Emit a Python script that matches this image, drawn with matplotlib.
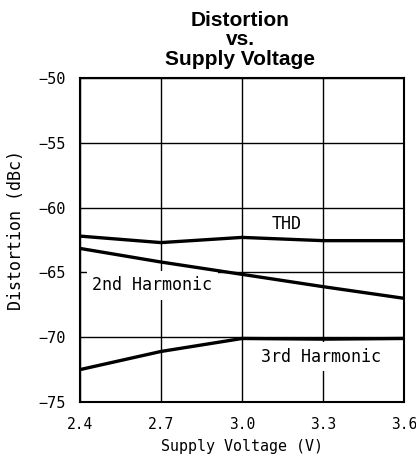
import matplotlib
matplotlib.use("Agg")
import matplotlib.pyplot as plt

voltage = [2.4, 2.7, 3.0, 3.3, 3.6]
thd = [-62.2, -62.7, -62.3, -62.55, -62.55]
second_harmonic = [-63.15, -64.2, -65.15, -66.1, -67.0]
third_harmonic = [-72.5, -71.1, -70.1, -70.15, -70.1]

x_ticks = [2.4, 2.7, 3.0, 3.3, 3.6]
x_tick_labels = ["2.4", "2.7", "3.0", "3.3", "3.6"]
y_ticks = [-75, -70, -65, -60, -55, -50]
title_lines = ["Distortion", "vs.", "Supply Voltage"]

mono = "DejaVu Sans Mono"

fig = plt.figure(figsize=(4.16, 4.72), dpi=100)
ax = fig.add_axes([80 / 416, 1 - 402 / 472, 324 / 416, 324 / 472])

for xv in x_ticks:
    ax.axvline(xv, color="black", lw=1.0, zorder=1)
for yv in y_ticks:
    ax.axhline(yv, color="black", lw=1.0, zorder=1)

ax.plot(voltage, thd, color="black", lw=2.4, zorder=3)
ax.plot(voltage, second_harmonic, color="black", lw=2.4, zorder=3)
ax.plot(voltage, third_harmonic, color="black", lw=2.4, zorder=3)

# white boxes break the grid behind the labels, curves stay on top
box = dict(facecolor="white", edgecolor="none", pad=4)
ax.text(3.167, -61.3, "THD", family=mono, fontsize=12, ha="center", va="center",
        zorder=2, bbox=box)
ax.text(2.667, -66.0, "2nd Harmonic", family=mono, fontsize=12, ha="center", va="center",
        zorder=2, bbox=box)
ax.text(3.293, -71.5, "3rd Harmonic", family=mono, fontsize=12, ha="center", va="center",
        zorder=2, bbox=box)

ax.set_xlim(2.4, 3.6)
ax.set_ylim(-75, -50)
ax.set_xticks(x_ticks)
ax.set_xticklabels(x_tick_labels, family=mono, fontsize=10.5)
ax.set_yticks(y_ticks)
ax.set_yticklabels([str(v).replace("-", "\u2212") for v in y_ticks], family=mono, fontsize=11)
ax.tick_params(axis="x", length=0, pad=11)
ax.tick_params(axis="y", length=0, pad=10)
for s in ax.spines.values():
    s.set_linewidth(1.5)
    s.set_zorder(5)

ax.set_xlabel("Supply Voltage (V)", family=mono, fontsize=10.8, labelpad=5)
ax.set_ylabel("Distortion (dBc)", family=mono, fontsize=12)
ax.yaxis.set_label_coords(-0.17, 0.531)

for line, base in zip(title_lines, [26, 45, 65]):
    fig.text(240 / 416, 1 - base / 472, line, family="Liberation Sans",
             weight="bold", fontsize=15, ha="center", va="baseline")

fig.savefig("out.png", dpi=100)
